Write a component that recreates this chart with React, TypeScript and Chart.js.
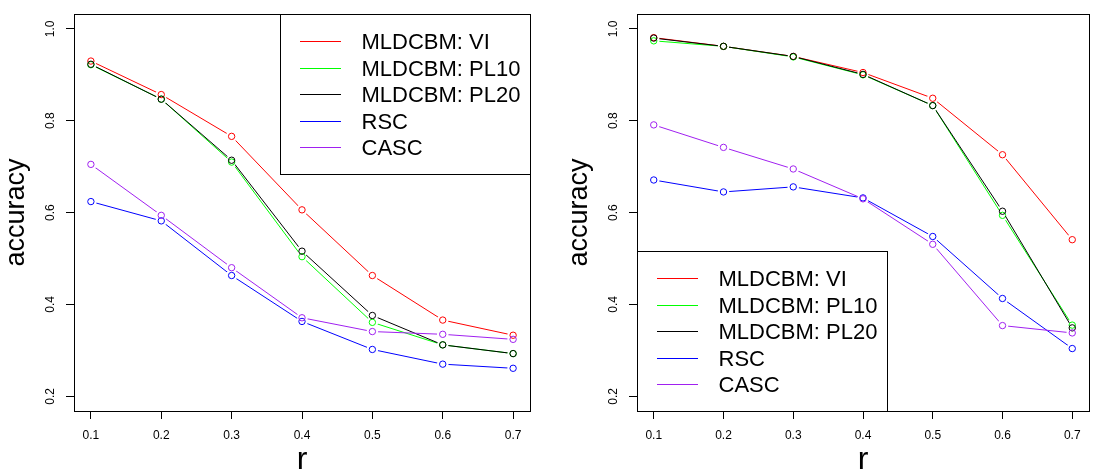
import React, { useEffect, useRef } from 'react';
import { Chart, registerables } from 'chart.js';

Chart.register(...registerables);
Chart.defaults.font.family = '"Liberation Sans", Arial, Helvetica, sans-serif';
Chart.defaults.color = '#000';

// x positions (r) and axis ticks
const rValues = [0.1, 0.2, 0.3, 0.4, 0.5, 0.6, 0.7];
const xTickValues = [0.1, 0.2, 0.3, 0.4, 0.5, 0.6, 0.7];
const yTickValues = [0.2, 0.4, 0.6, 0.8, 1.0];

const seriesNames = ['MLDCBM: VI', 'MLDCBM: PL10', 'MLDCBM: PL20', 'RSC', 'CASC'];
const seriesColors = ['#FF0000', '#00FF00', '#000000', '#0000FF', '#A020F0'];

// left panel accuracies
const viLeft = [0.930, 0.857, 0.766, 0.606, 0.463, 0.366, 0.333];
const pl10Left = [0.922, 0.847, 0.710, 0.504, 0.361, 0.312, 0.293];
const pl20Left = [0.923, 0.847, 0.714, 0.516, 0.376, 0.312, 0.293];
const rscLeft = [0.624, 0.582, 0.463, 0.363, 0.302, 0.270, 0.261];
const cascLeft = [0.705, 0.594, 0.480, 0.371, 0.341, 0.335, 0.324];

// right panel accuracies
const viRight = [0.981, 0.962, 0.940, 0.905, 0.849, 0.726, 0.541];
const pl10Right = [0.974, 0.962, 0.939, 0.900, 0.833, 0.594, 0.355];
const pl20Right = [0.980, 0.962, 0.940, 0.901, 0.833, 0.603, 0.349];
const rscRight = [0.671, 0.645, 0.656, 0.632, 0.548, 0.413, 0.304];
const cascRight = [0.791, 0.742, 0.695, 0.630, 0.531, 0.354, 0.338];

const X_MIN = 0.076;
const X_MAX = 0.724;
const Y_MIN = 0.168;
const Y_MAX = 1.032;
const GAP = 5.8;

// Leaves a small gap in each line around its own points, then draws the points.
const pointGapPlugin = {
  id: 'pointGaps',
  beforeDatasetDraw(chart: any, args: any) {
    const ctx = chart.ctx;
    ctx.save();
    ctx.beginPath();
    ctx.rect(0, 0, chart.width, chart.height);
    args.meta.data.forEach((pt: any) => {
      ctx.moveTo(pt.x + GAP, pt.y);
      ctx.arc(pt.x, pt.y, GAP, 0, Math.PI * 2);
    });
    ctx.clip('evenodd');
  },
  afterDatasetDraw(chart: any, args: any) {
    const ctx = chart.ctx;
    ctx.restore();
    args.meta.data.forEach((pt: any) => pt.draw(ctx, chart.chartArea));
  },
};

// Frame around the plotting region plus the boxed legend.
const frameLegendPlugin = {
  id: 'frameLegend',
  afterDraw(chart: any, _args: any, opts: any) {
    const ctx = chart.ctx;
    const a = chart.chartArea;
    ctx.save();
    ctx.strokeStyle = '#000';
    ctx.lineWidth = 1;
    ctx.strokeRect(Math.round(a.left) + 0.5, Math.round(a.top) + 0.5,
      Math.round(a.right - a.left), Math.round(a.bottom - a.top));

    const bw = 250;
    const bh = 160;
    const bx = opts.corner === 'topright' ? Math.round(a.right) - bw : Math.round(a.left);
    const by = opts.corner === 'topright' ? Math.round(a.top) : Math.round(a.bottom) - bh;
    ctx.fillStyle = '#fff';
    ctx.fillRect(bx, by, bw, bh);
    ctx.strokeRect(bx + 0.5, by + 0.5, bw, bh);

    ctx.font = '22px "Liberation Sans", Arial, Helvetica, sans-serif';
    ctx.textBaseline = 'middle';
    ctx.textAlign = 'left';
    chart.data.datasets.forEach((ds: any, i: number) => {
      const y = Math.round(by + 27 + i * 26.6) + 0.5;
      ctx.strokeStyle = ds.borderColor;
      ctx.beginPath();
      ctx.moveTo(bx + 20, y);
      ctx.lineTo(bx + 61, y);
      ctx.stroke();
      ctx.fillStyle = '#000';
      ctx.fillText(ds.label, bx + 81.5, y + 1);
    });
    ctx.restore();
  },
};

type PanelProps = {
  series: number[][];
  corner: string;
  left: number;
  width: number;
  rightPad: number;
};

function Panel({ series, corner, left, width, rightPad }: PanelProps) {
  const ref = useRef<HTMLCanvasElement | null>(null);

  useEffect(() => {
    if (!ref.current) return;
    const datasets = series.map((vals, i) => ({
      label: seriesNames[i],
      data: rValues.map((r, j) => ({ x: r, y: vals[j] })),
      borderColor: seriesColors[i],
      borderWidth: 1,
      pointRadius: 3.2,
      pointBorderWidth: 1,
      pointBorderColor: seriesColors[i],
      pointBackgroundColor: 'rgba(0,0,0,0)',
      fill: false,
      tension: 0,
      order: series.length - 1 - i,
    }));

    const chart = new Chart(ref.current, {
      type: 'line',
      data: { datasets },
      plugins: [pointGapPlugin, frameLegendPlugin],
      options: {
        responsive: false,
        animation: false,
        devicePixelRatio: 1,
        events: [],
        layout: { padding: { left: 0, top: 4, right: rightPad, bottom: 0 } },
        plugins: {
          legend: { display: false },
          tooltip: { enabled: false },
          frameLegend: { corner },
        } as any,
        scales: {
          x: {
            type: 'linear',
            min: X_MIN,
            max: X_MAX,
            afterBuildTicks: (s: any) => {
              s.ticks = xTickValues.map((v) => ({ value: v }));
            },
            afterFit: (s: any) => {
              s.height = 65;
            },
            ticks: {
              autoSkip: false,
              maxRotation: 0,
              padding: 9,
              color: '#000',
              font: { size: 12 },
              callback: (v: any) => Number(v).toFixed(1),
            },
            grid: { drawOnChartArea: false, drawTicks: true, tickLength: 8, color: '#000', lineWidth: 1 },
            border: { display: false },
            title: {
              display: true,
              text: 'r',
              color: '#000',
              font: { size: 32, lineHeight: 1 },
              padding: { top: 0, bottom: 0 },
            },
          },
          y: {
            type: 'linear',
            min: Y_MIN,
            max: Y_MAX,
            afterBuildTicks: (s: any) => {
              s.ticks = yTickValues.map((v) => ({ value: v }));
            },
            afterFit: (s: any) => {
              s.width = 74;
            },
            ticks: {
              minRotation: 90,
              maxRotation: 90,
              crossAlign: 'center',
              padding: 7,
              color: '#000',
              font: { size: 12 },
              callback: (v: any) => Number(v).toFixed(1),
            },
            grid: { drawOnChartArea: false, drawTicks: true, tickLength: 8, color: '#000', lineWidth: 1 },
            border: { display: false },
            title: {
              display: true,
              text: 'accuracy',
              color: '#000',
              font: { size: 27, lineHeight: 1 },
              padding: { top: 3, bottom: 0 },
            },
          },
        },
      } as any,
    });
    return () => chart.destroy();
  }, [series, corner, rightPad]);

  return (
    <canvas
      ref={ref}
      width={width}
      height={476}
      style={{ position: 'absolute', left, top: 0, width, height: 476 }}
    />
  );
}

const leftSeries = [viLeft, pl10Left, pl20Left, rscLeft, cascLeft];
const rightSeries = [viRight, pl10Right, pl20Right, rscRight, cascRight];

export default function App() {
  return (
    <div style={{ position: 'absolute', left: 0, top: 0, width: 1094, height: 476, background: '#fff', overflow: 'hidden' }}>
      <Panel series={leftSeries} corner="topright" left={0} width={563} rightPad={33} />
      <Panel series={rightSeries} corner="bottomleft" left={563} width={531} rightPad={1} />
    </div>
  );
}
